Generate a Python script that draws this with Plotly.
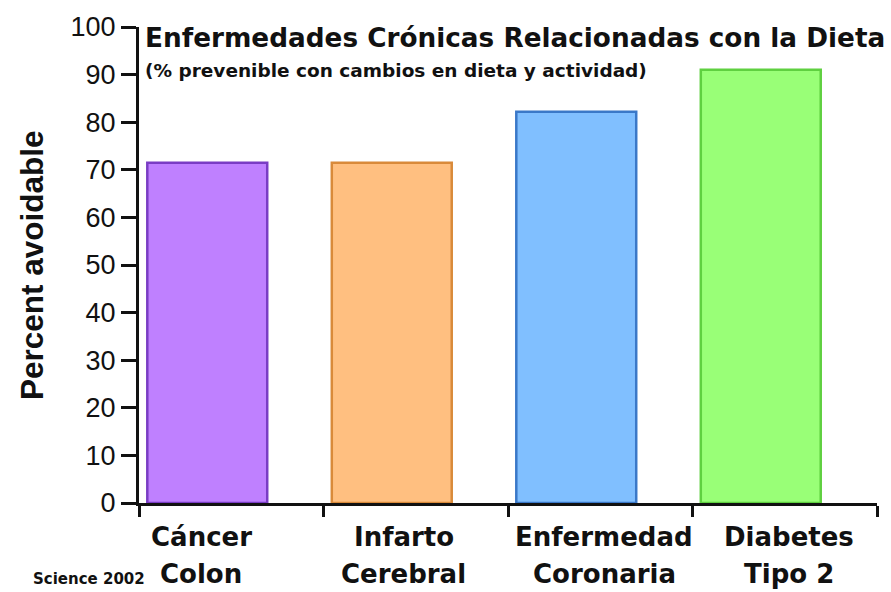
import plotly.graph_objects as go

# Data
categories = ["Cáncer<br>Colon", "Infarto<br>Cerebral", "Enfermedad<br>Coronaria", "Diabetes<br>Tipo 2"]
percent_avoidable = [71.5, 71.5, 82.2, 91.0]
fill_colors = ["#bf80ff", "#ffbf80", "#80bfff", "#99ff77"]
line_colors = ["#7a3dc4", "#d98a3a", "#3a78c8", "#5fd040"]
y_ticks = [0, 10, 20, 30, 40, 50, 60, 70, 80, 90, 100]

title_text = "Enfermedades Crónicas Relacionadas con la Dieta"
subtitle_text = "(% prevenible con cambios en dieta y actividad)"
source_text = "Science 2002"
y_title = "Percent avoidable"

BOLD = "DejaVu Sans"
PLAIN = "Liberation Sans"

fig = go.Figure()
fig.add_trace(go.Bar(
    x=categories, y=percent_avoidable,
    width=0.65, offset=-0.455,
    marker=dict(color=fill_colors, line=dict(color=line_colors, width=2.5)),
    showlegend=False, hoverinfo="x+y",
))

# Category labels sit a bit off the category centres in the original,
# and the two lines are spaced wider than plotly's default line height
label_shift = [-30, -12, 4, 4]
for cat, dx in zip(categories, label_shift):
    for i, line in enumerate(cat.split("<br>")):
        fig.add_annotation(x=cat, xref="x", y=-0.036, yref="paper", yanchor="top",
                           xshift=dx, yshift=-37 * i, text=line, showarrow=False,
                           font=dict(family=BOLD, size=26, color="#111111", weight="bold"))

fig.add_annotation(x=0.005, xref="paper", xanchor="left", y=0.976, yref="paper", yanchor="middle",
                   text=title_text, showarrow=False,
                   font=dict(family=BOLD, size=26.3, color="#111111", weight="bold"))
fig.add_annotation(x=0.005, xref="paper", xanchor="left", y=0.909, yref="paper", yanchor="middle",
                   text=subtitle_text, showarrow=False,
                   font=dict(family=BOLD, size=18.5, color="#111111", weight="bold"))
fig.add_annotation(x=-0.068, xref="paper", xanchor="center", y=-0.16, yref="paper", yanchor="middle",
                   text=source_text, showarrow=False,
                   font=dict(family=BOLD, size=15, color="#111111", weight="bold"))
fig.add_annotation(x=-0.145, xref="paper", xanchor="center", y=0.5, yref="paper", yanchor="middle",
                   text=y_title, textangle=-90, showarrow=False,
                   font=dict(family=PLAIN, size=31.5, color="#111111", weight="bold"))

fig.update_xaxes(type="category", range=[-0.5, 3.5], showticklabels=False,
                 tickson="boundaries", ticks="outside", ticklen=11, tickwidth=3, tickcolor="#111111",
                 showline=True, linewidth=3, linecolor="#111111", showgrid=False, zeroline=False,
                 fixedrange=True)
fig.update_yaxes(range=[0, 100], tickvals=y_ticks, ticks="outside", ticklen=15, tickwidth=3,
                 tickcolor="#111111", showline=True, linewidth=3, linecolor="#111111",
                 showgrid=False, zeroline=False,
                 tickfont=dict(family=PLAIN, size=27, color="#111111"))

fig.update_layout(
    width=891, height=592,
    margin=dict(l=139, r=14, t=27, b=89),
    plot_bgcolor="white", paper_bgcolor="white",
)

# drop the browser's default body margin so the figure fills the window
fig.write_html("out.html", config={"displayModeBar": False},
               post_script="document.body.style.margin = '0';")
